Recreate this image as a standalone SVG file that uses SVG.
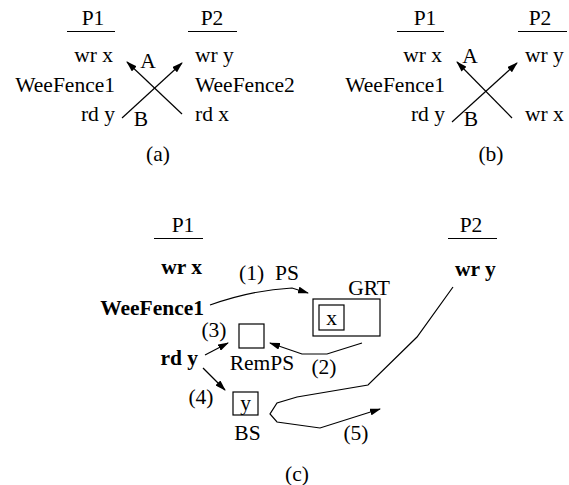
<svg xmlns="http://www.w3.org/2000/svg" width="569" height="485" viewBox="0 0 569 485">
<defs>
<marker id="ah" markerWidth="11" markerHeight="7" refX="10" refY="3.5" orient="auto" markerUnits="userSpaceOnUse">
<path d="M0,0 L11,3.5 L0,7 z" fill="#000"/>
</marker>
</defs>
<style>
text{font-family:"Liberation Serif","Times New Roman",serif;font-size:21.5px;fill:#000}
.b{font-weight:bold}
.e{text-anchor:end}
.m{text-anchor:middle}
.ln{stroke:#000;stroke-width:1.2;fill:none}
.ar{stroke:#000;stroke-width:1.2;fill:none;marker-end:url(#ah)}
.bx{stroke:#000;stroke-width:1.2;fill:#fff}
</style>
<rect width="569" height="485" fill="#fff"/>

<g id="panel-a">
<g id="a-P1"><text class="m" x="93" y="25">P1</text><line class="ln" x1="67" y1="31.5" x2="115" y2="31.5"/></g>
<g id="a-P2"><text class="m" x="212" y="25">P2</text><line class="ln" x1="188" y1="31.5" x2="237" y2="31.5"/></g>
<g id="a-wrx"><text class="e" x="113" y="62">wr x</text></g>
<g id="a-fence1"><text class="e" x="115" y="92">WeeFence1</text></g>
<g id="a-rdy"><text class="e" x="115" y="121">rd y</text></g>
<g id="a-wry"><text x="195" y="62">wr y</text></g>
<g id="a-fence2"><text x="195" y="92">WeeFence2</text></g>
<g id="a-rdx"><text x="195" y="121">rd x</text></g>
<text class="m" x="148" y="68">A</text>
<text class="m" x="141" y="126">B</text>
<text class="m" x="158" y="161">(a)</text>
</g>

<g id="panel-b">
<g id="b-P1"><text class="m" x="425" y="25">P1</text><line class="ln" x1="397" y1="31.5" x2="444" y2="31.5"/></g>
<g id="b-P2"><text class="m" x="540" y="25">P2</text><line class="ln" x1="518" y1="31.5" x2="567" y2="31.5"/></g>
<g id="b-wrx"><text class="e" x="442" y="62">wr x</text></g>
<g id="b-fence1"><text class="e" x="445" y="92">WeeFence1</text></g>
<g id="b-rdy"><text class="e" x="445" y="121">rd y</text></g>
<g id="b-wry"><text x="525" y="62">wr y</text></g>
<g id="b-wrx2"><text x="525" y="121">wr x</text></g>
<text class="m" x="470" y="63">A</text>
<text class="m" x="471" y="126">B</text>
<text class="m" x="491" y="161">(b)</text>
</g>

<g id="panel-c">
<g id="c-P1"><text class="m" x="183" y="232">P1</text><line class="ln" x1="154" y1="238.5" x2="203" y2="238.5"/></g>
<g id="c-P2"><text class="m" x="471" y="232">P2</text><line class="ln" x1="448" y1="238.5" x2="497" y2="238.5"/></g>
<g id="c-wrx"><text class="b e" x="202" y="274">wr x</text></g>
<g id="c-fence1"><text class="b e" x="204" y="315">WeeFence1</text></g>
<g id="c-rdy"><text class="b e" x="198" y="365">rd y</text></g>
<g id="c-wry"><text class="b" x="455" y="276">wr y</text></g>
<g id="c-GRT"><text class="m" x="369" y="295">GRT</text><rect class="bx" x="313" y="299" width="67" height="37"/><rect class="bx" x="319" y="305" width="25" height="25"/><text class="m" x="331.5" y="325">x</text></g>
<g id="c-RemPS"><rect class="bx" x="239" y="324" width="25" height="24"/><text class="m" x="262" y="370">RemPS</text></g>
<g id="c-BS"><rect class="bx" x="233" y="392" width="25" height="23"/><text class="m" x="245.5" y="410">y</text><text class="m" x="247.5" y="440">BS</text></g>
<text x="239" y="280">(1)</text>
<text x="275" y="280">PS</text>
<text class="m" x="214" y="337">(3)</text>
<text class="m" x="324" y="374">(2)</text>
<text class="m" x="201" y="404">(4)</text>
<text class="m" x="356" y="440">(5)</text>
<text class="m" x="297" y="481">(c)</text>
</g>

<g id="connectors">
<line class="ar" x1="122" y1="118" x2="182" y2="63"/>
<line class="ar" x1="182" y1="114" x2="127" y2="62"/>
<line class="ar" x1="452" y1="122" x2="517" y2="63"/>
<line class="ar" x1="512" y1="118" x2="457" y2="62"/>
<path class="ar" d="M210,305 Q252,290 292,288 L308,293"/>
<polyline class="ar" points="362,343 327,354 302,354 270,343"/>
<line class="ar" x1="205" y1="355" x2="228" y2="343"/>
<line class="ar" x1="203" y1="368" x2="225" y2="390"/>
<polyline class="ar" points="453,287 417,337 368,385 297,397 277,403 270,414 277,422 320,428 380,409"/>
</g>
</svg>
